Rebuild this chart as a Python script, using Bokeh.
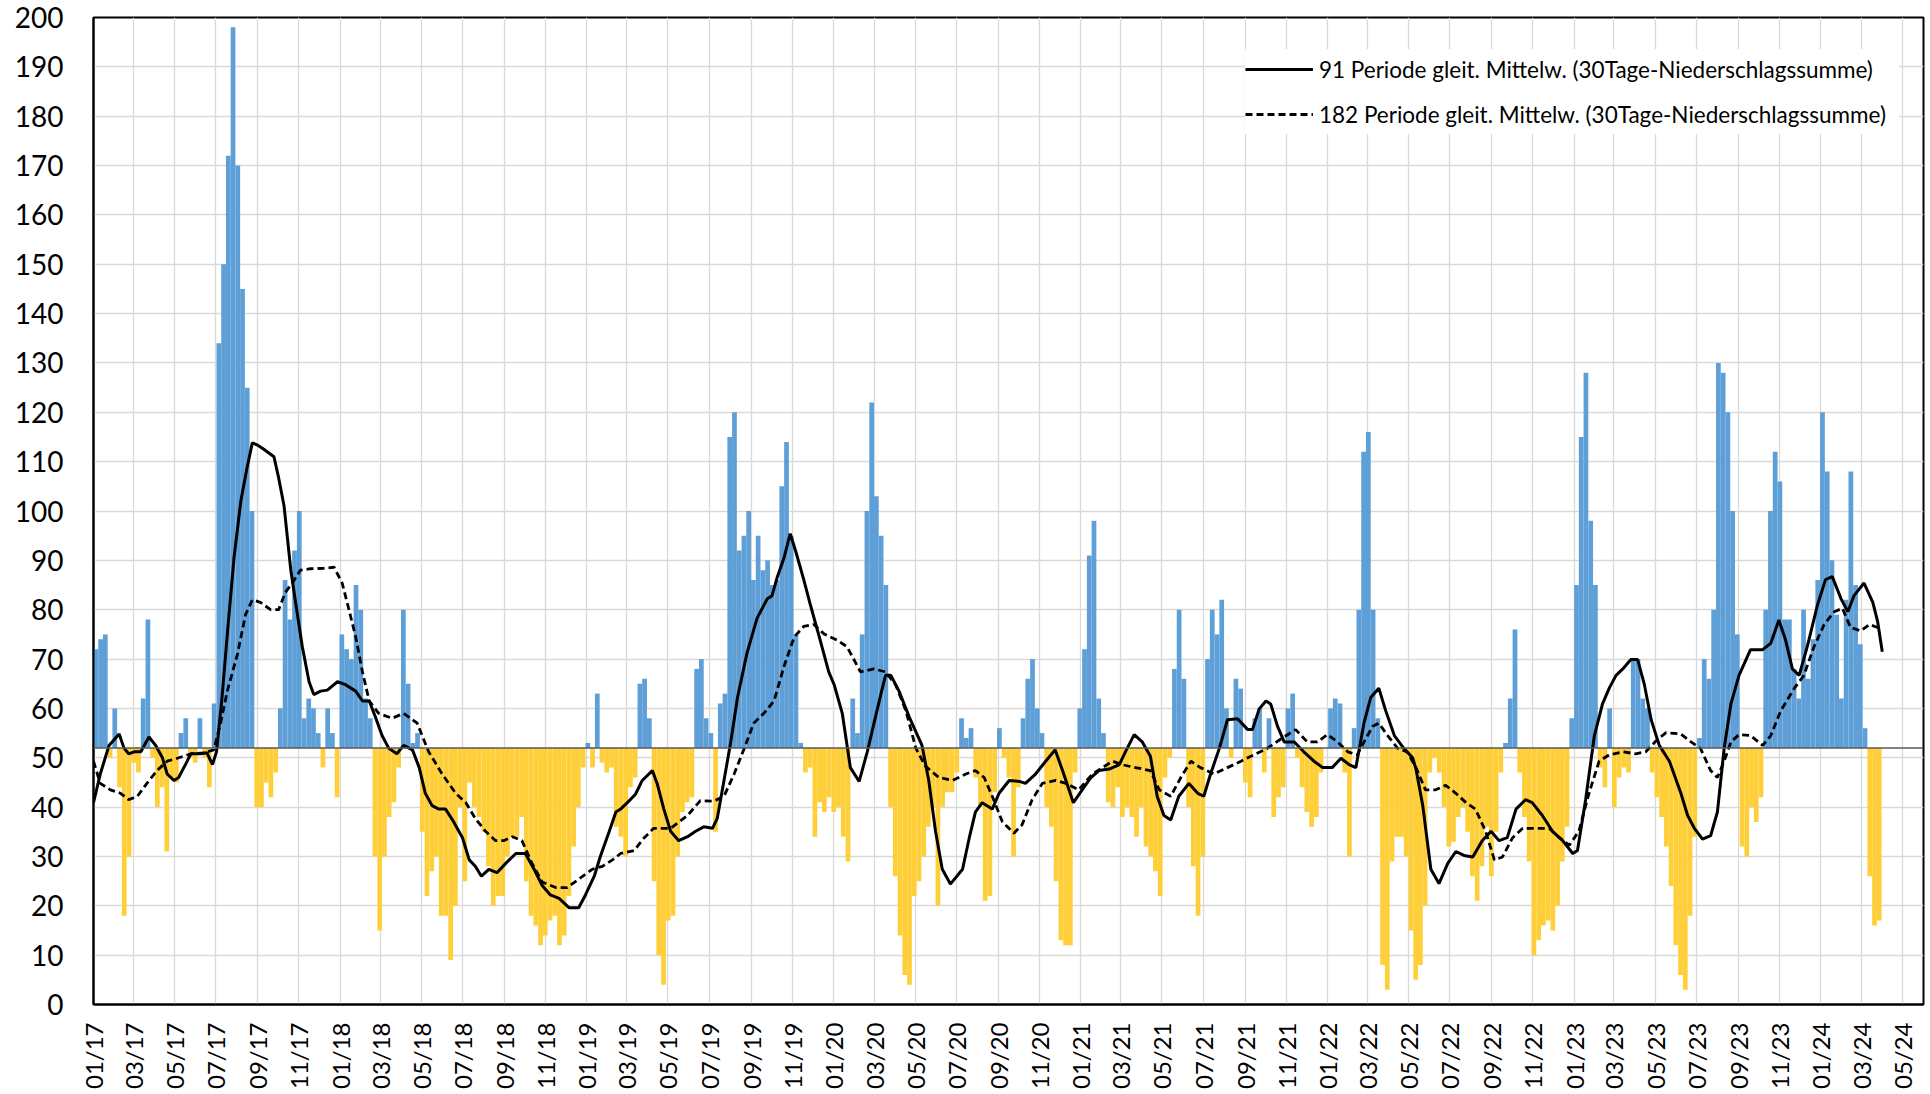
import numpy as np
import pandas as pd
from bokeh.plotting import figure
from bokeh.models import (ColumnDataSource, Span, Legend, LegendItem, FixedTicker,
                          DatetimeTickFormatter, Range1d)
from bokeh.embed import file_html
from bokeh.resources import INLINE

START = "2017-01-01"
END = "2024-06-01"
BASELINE = 52

# 30-day precipitation sum, one value per week starting 2017-01-01
sum30_weekly = [
    72, 74, 75, 50, 60, 44, 18, 30, 49, 47,
    62, 78, 50, 40, 44, 31, 46, 45, 55, 58,
    50, 49, 58, 50, 44, 61, 134, 150, 172, 198,
    170, 145, 125, 100, 40, 40, 45, 42, 47, 60,
    86, 78, 92, 100, 58, 62, 60, 55, 48, 60,
    55, 42, 75, 72, 70, 85,
    80, 62, 58, 30, 15, 30, 38, 41, 48, 80,
    65, 53, 55, 35, 22, 27, 30, 18, 18, 9,
    20, 40, 25, 45, 40, 38, 35, 28, 20, 22,
    22, 30, 34, 34, 38, 25, 18, 16, 12, 14,
    17, 18, 12, 14, 22, 32, 40, 48, 53, 48,
    63, 49, 47, 48, 36, 34,
    30, 44, 46, 65, 66, 58, 25, 10, 4, 17,
    18, 30, 39, 41, 42, 68, 70, 58, 55, 35,
    61, 63, 115, 120, 92, 95, 100, 86, 95, 88,
    90, 85, 86, 105, 114, 95, 75, 53, 47, 48,
    34, 41, 39, 42, 39, 40, 34, 29, 62, 55,
    75, 100, 122, 103, 95, 85,
    40, 26, 14, 6, 4, 22, 25, 30, 36, 40,
    20, 40, 43, 43, 47, 58, 54, 56, 46, 40,
    21, 22, 43, 56, 50, 46, 30, 44, 58, 66,
    70, 60, 55, 40, 36, 25, 13, 12, 12, 47,
    60, 72, 91, 98, 62, 55, 41, 40, 44, 38,
    40, 38, 34, 40, 32, 30,
    27, 22, 46, 50, 68, 80, 66, 40, 28, 18,
    30, 70, 80, 75, 82, 60, 50, 66, 64, 45,
    42, 58, 60, 47, 58, 38, 42, 44, 60, 63,
    50, 44, 39, 36, 38, 47, 52, 60, 62, 61,
    47, 30, 56, 80, 112, 116, 80, 58, 8, 3,
    29, 34, 34, 30, 15, 5,
    8, 20, 47, 50, 47, 40, 32, 33, 38, 40,
    35, 26, 21, 28, 36, 26, 35, 47, 53, 62,
    76, 47, 38, 29, 10, 13, 16, 17, 15, 20,
    29, 36, 58, 85, 115, 128, 98, 85, 48, 44,
    60, 40, 46, 48, 47, 70, 70, 62, 60, 47,
    42, 38, 32, 24, 12, 6,
    3, 18, 34, 54, 70, 66, 80, 130, 128, 120,
    100, 75, 32, 30, 40, 37, 42, 80, 100, 112,
    106, 78, 78, 68, 62, 80, 66, 74, 86, 120,
    108, 90, 79, 62, 82, 108, 85, 73, 56, 26,
    16, 17,
]

# 91-period moving average: days since 2017-01-01 and values
ma91_day = [
    0, 10, 23, 38, 45, 52, 60, 70, 82, 92,
    102, 109, 119, 126, 136, 144, 158, 168, 176, 182,
    190, 198, 208, 218, 227, 235, 242, 252, 267, 274,
    282, 292, 299, 309, 319, 326, 336, 346, 361, 373,
    388, 398, 408, 417, 427, 437, 449, 459, 472, 482,
    491, 501, 511, 521, 533, 546, 556, 565, 574, 585,
    597, 610, 625, 639, 652, 664, 676, 689, 704, 718,
    728, 741, 750, 763, 773, 780, 790, 802, 812, 827,
    834, 844, 854, 866, 879, 891, 903, 916, 923, 933,
    943, 953, 967, 982, 997, 1004, 1012, 1022, 1031, 1039,
    1051, 1061, 1074, 1088, 1096, 1108, 1120, 1133, 1145, 1155,
    1165, 1172, 1180, 1192, 1207, 1226, 1236, 1246, 1256, 1268,
    1286, 1296, 1305, 1315, 1330, 1340, 1355, 1370, 1379, 1394,
    1409, 1423, 1434, 1450, 1463, 1476, 1488, 1503, 1518, 1527,
    1540, 1552, 1564, 1574, 1584, 1594, 1606, 1621, 1634, 1643,
    1653, 1666, 1678, 1693, 1708, 1715, 1725, 1735, 1742, 1752,
    1762, 1777, 1791, 1806, 1819, 1833, 1846, 1858, 1868, 1880,
    1890, 1902, 1912, 1925, 1939, 1952, 1957, 1967, 1979, 1991,
    2004, 2016, 2028, 2041, 2055, 2068, 2080, 2092, 2105, 2119,
    2129, 2144, 2159, 2174, 2189, 2196, 2208, 2221, 2233, 2243,
    2253, 2263, 2275, 2285, 2295, 2305, 2317, 2332, 2349, 2359,
    2369, 2381, 2393, 2403, 2413, 2423, 2435, 2452, 2470, 2482,
    2494, 2504, 2514, 2524, 2536, 2551, 2563, 2573, 2586, 2596,
    2605, 2620, 2633, 2640, 2647,
]
ma91_val = [
    40.9, 46.7, 52.5, 54.8, 52.0, 50.8, 51.2, 51.2, 54.2, 52.5,
    50.0, 46.7, 45.4, 46.0, 48.6, 50.8, 50.8, 51.0, 48.6, 51.2,
    62.0, 75.0, 90.6, 102.0, 108.6, 113.8, 113.4, 112.5, 111.0, 106.7,
    101.0, 88.0, 81.5, 72.5, 65.4, 62.8, 63.5, 63.7, 65.4, 64.8,
    63.5, 61.5, 61.5, 58.3, 54.5, 51.9, 50.8, 52.5, 51.6, 48.0,
    42.8, 40.3, 39.6, 39.6, 37.0, 33.8, 29.3, 28.0, 26.0, 27.4,
    26.7, 28.6, 30.6, 30.6, 27.4, 24.1, 22.2, 21.5, 19.6, 19.6,
    22.2, 26.0, 30.0, 35.0, 39.0, 39.6, 40.9, 42.6, 45.4, 47.4,
    44.8, 39.6, 35.1, 33.2, 34.0, 35.1, 36.0, 35.7, 37.7, 45.4,
    53.2, 62.2, 71.2, 78.3, 82.2, 82.8, 86.7, 90.6, 95.4, 91.9,
    86.1, 80.9, 74.5, 67.4, 64.8, 59.0, 48.0, 45.2, 51.2, 57.0,
    62.8, 66.7, 66.7, 63.5, 58.3, 52.5, 45.4, 35.1, 27.4, 24.4,
    27.4, 33.8, 39.0, 40.9, 39.6, 42.8, 45.4, 45.2, 44.8, 46.7,
    49.3, 51.6, 47.4, 40.9, 43.5, 46.0, 47.4, 47.7, 48.6, 51.2,
    54.7, 53.2, 50.3, 42.2, 38.3, 37.4, 42.2, 44.8, 42.8, 42.2,
    46.7, 51.9, 57.7, 57.9, 55.7, 55.7, 59.9, 61.5, 60.9, 56.4,
    53.2, 53.2, 51.2, 49.3, 48.0, 48.0, 49.9, 48.6, 48.0, 57.0,
    62.2, 64.1, 59.6, 54.5, 51.9, 50.0, 47.7, 40.3, 27.4, 24.5,
    28.6, 31.0, 30.2, 29.9, 33.2, 35.1, 33.2, 33.8, 39.6, 41.5,
    40.9, 38.3, 35.1, 33.2, 30.6, 31.2, 41.5, 54.5, 60.9, 64.1,
    66.7, 68.0, 69.9, 69.9, 64.8, 57.7, 52.5, 49.3, 42.8, 38.3,
    35.7, 33.5, 34.2, 39.0, 51.9, 60.9, 66.7, 71.9, 71.9, 73.2,
    77.9, 73.8, 68.0, 66.7, 72.5, 80.9, 86.1, 86.7, 82.2, 79.6,
    82.8, 85.4, 81.5, 77.7, 71.5,
]

# 182-period moving average
ma182_day = [
    0, 10, 25, 40, 52, 65, 79, 94, 109, 124,
    144, 163, 178, 188, 198, 213, 225, 235, 247, 262,
    274, 284, 297, 306, 321, 341, 356, 368, 378, 388,
    398, 408, 422, 442, 459, 479, 496, 516, 536, 551,
    565, 580, 595, 607, 620, 634, 649, 664, 684, 701,
    718, 738, 753, 768, 780, 800, 815, 829, 854, 879,
    898, 918, 933, 948, 963, 977, 992, 1007, 1022, 1037,
    1051, 1066, 1081, 1101, 1115, 1135, 1155, 1172, 1187, 1202,
    1217, 1231, 1251, 1271, 1291, 1305, 1318, 1330, 1345, 1362,
    1374, 1389, 1404, 1424, 1439, 1458, 1478, 1493, 1508, 1522,
    1542, 1564, 1577, 1594, 1609, 1624, 1638, 1658, 1678, 1698,
    1717, 1737, 1757, 1779, 1796, 1811, 1826, 1841, 1856, 1870,
    1880, 1893, 1902, 1915, 1930, 1944, 1957, 1971, 1986, 2001,
    2016, 2031, 2045, 2060, 2073, 2085, 2100, 2115, 2134, 2154,
    2169, 2184, 2198, 2213, 2228, 2243, 2263, 2282, 2297, 2312,
    2327, 2349, 2364, 2378, 2393, 2403, 2413, 2423, 2435, 2452,
    2470, 2482, 2497, 2517, 2531, 2546, 2561, 2576, 2588, 2600,
    2615, 2628, 2640,
]
ma182_val = [
    49.3, 44.8, 43.5, 42.8, 41.5, 42.2, 44.8, 47.4, 49.3, 49.9,
    50.8, 51.0, 51.6, 57.0, 63.5, 71.0, 79.0, 82.0, 81.5, 80.0,
    80.0, 83.5, 86.0, 88.0, 88.3, 88.4, 88.6, 85.4, 80.0, 74.5,
    67.4, 61.5, 59.0, 58.0, 59.0, 57.0, 51.2, 46.7, 42.8, 40.9,
    37.7, 35.1, 33.2, 33.2, 34.0, 33.2, 28.6, 24.8, 23.7, 23.7,
    25.4, 27.4, 28.0, 29.3, 30.6, 31.2, 33.8, 35.7, 35.7, 38.3,
    41.3, 41.2, 42.2, 46.7, 51.9, 57.0, 59.0, 61.5, 68.6, 74.5,
    76.6, 77.0, 75.1, 73.8, 72.5, 67.4, 68.0, 67.4, 64.8, 59.6,
    51.9, 48.3, 46.0, 45.4, 46.7, 47.4, 46.0, 42.2, 37.0, 34.7,
    36.4, 41.5, 44.8, 45.4, 44.8, 43.5, 46.7, 48.0, 49.3, 48.6,
    48.0, 47.4, 43.5, 42.2, 46.0, 49.3, 48.0, 46.7, 48.0, 49.3,
    50.6, 51.9, 53.8, 55.7, 53.2, 53.2, 54.7, 53.2, 51.2, 50.6,
    53.2, 56.4, 57.0, 54.5, 51.9, 51.2, 48.0, 43.5, 43.5, 44.4,
    42.8, 40.9, 39.6, 35.1, 29.3, 29.9, 33.8, 35.7, 35.7, 35.7,
    33.8, 32.3, 35.1, 42.8, 49.3, 50.6, 51.2, 50.8, 51.2, 53.4,
    55.1, 54.8, 53.2, 51.9, 47.4, 46.0, 49.3, 53.2, 54.7, 54.5,
    52.5, 54.5, 59.6, 64.1, 66.7, 72.5, 77.0, 79.6, 80.3, 76.4,
    75.7, 77.0, 76.4,
]

LABEL_91 = "91 Periode gleit. Mittelw. (30Tage-Niederschlagssumme)"
LABEL_182 = "182 Periode gleit. Mittelw. (30Tage-Niederschlagssumme)"

FONT = "Lato"
BLUE = "#5E9FD7"
YELLOW = "#FFCF3A"

start = pd.Timestamp(START)
n = len(sum30_weekly)
week_centers = start + pd.to_timedelta(np.arange(n) * 7 + 3.5, unit="D")
bar_src = ColumnDataSource(dict(
    x=week_centers,
    top=sum30_weekly,
    color=[BLUE if v >= BASELINE else YELLOW for v in sum30_weekly],
))

m91 = min(len(ma91_day), len(ma91_val))
m182 = min(len(ma182_day), len(ma182_val))
src91 = ColumnDataSource(dict(x=start + pd.to_timedelta(ma91_day[:m91], unit="D"), y=ma91_val[:m91]))
src182 = ColumnDataSource(dict(x=start + pd.to_timedelta(ma182_day[:m182], unit="D"), y=ma182_val[:m182]))

p = figure(width=1926, height=1092, x_axis_type="datetime",
           x_range=Range1d(start.to_pydatetime(), pd.Timestamp(END).to_pydatetime()),
           y_range=Range1d(0, 200),
           output_backend="svg", toolbar_location=None,
           min_border_left=93, min_border_top=17, min_border_bottom=86, min_border_right=3)

p.vbar(x="x", width=7 * 24 * 3600 * 1000, bottom=BASELINE, top="top", color="color",
       line_color=None, source=bar_src)

p.add_layout(Span(location=BASELINE, dimension="width", line_color="#595959", line_width=1.5))

r91 = p.line("x", "y", source=src91, line_color="black", line_width=3)
r182 = p.line("x", "y", source=src182, line_color="black", line_width=2.8, line_dash="7 4")

tick_dates = pd.date_range(START, "2024-05-01", freq="2MS")
p.xaxis.ticker = FixedTicker(ticks=[t.timestamp() * 1000 for t in tick_dates])
fmt = "%m/%y"
p.xaxis.formatter = DatetimeTickFormatter(microseconds=fmt, milliseconds=fmt, seconds=fmt,
                                          minsec=fmt, minutes=fmt, hourmin=fmt, hours=fmt,
                                          days=fmt, months=fmt, years=fmt)
p.yaxis.ticker = FixedTicker(ticks=list(range(0, 201, 10)))

p.xaxis.major_label_orientation = np.pi / 2
for ax in (p.xaxis, p.yaxis):
    ax.major_tick_line_color = None
    ax.minor_tick_line_color = None
    ax.major_tick_out = 0
    ax.major_tick_in = 0
    ax.axis_line_color = "black"
    ax.axis_line_width = 2
    ax.major_label_text_font = FONT
    ax.major_label_text_color = "black"
p.xaxis.major_label_text_font_size = "24px"
p.yaxis.major_label_text_font_size = "28px"
p.yaxis.major_label_standoff = 30
p.xaxis.major_label_standoff = 18

p.xgrid.grid_line_color = "#d9d9d9"
p.ygrid.grid_line_color = "#d9d9d9"
p.xgrid.grid_line_width = 1.3
p.ygrid.grid_line_width = 1.3
p.outline_line_color = "black"
p.outline_line_width = 2
p.background_fill_color = "white"
p.border_fill_color = "white"

legend = Legend(items=[LegendItem(label=LABEL_91, renderers=[r91]),
                       LegendItem(label=LABEL_182, renderers=[r182])],
                location=(1152, 870))
legend.background_fill_color = "white"
legend.background_fill_alpha = 1.0
legend.border_line_color = None
legend.label_text_font = FONT
legend.label_text_font_size = "22.5px"
legend.label_text_color = "black"
legend.glyph_width = 68
legend.glyph_height = 40
legend.spacing = 5
legend.padding = 6
legend.margin = 0
legend.label_standoff = 6
legend.label_width = 580
p.add_layout(legend)

open("out.html", "w").write(file_html(p, INLINE))
